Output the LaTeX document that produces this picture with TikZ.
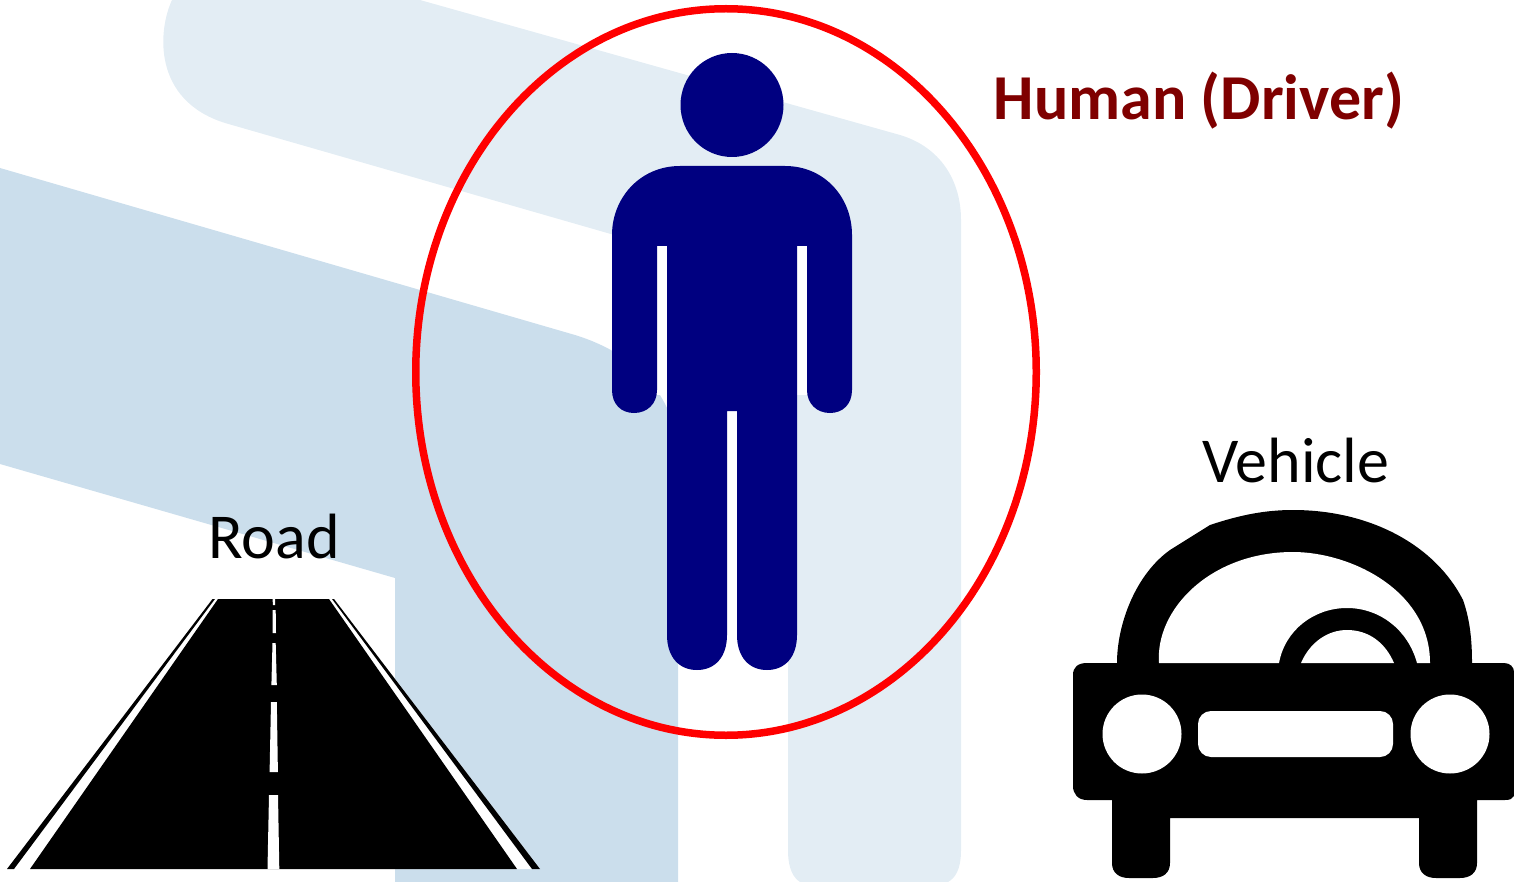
\documentclass[tikz,border=0pt]{standalone}
\usepackage{fontspec}
\usepackage{xcolor}
\setmainfont{Carlito}
\definecolor{bandlight}{HTML}{E3EDF4}
\definecolor{banddark}{HTML}{CBDEEC}
\definecolor{humanblue}{HTML}{000080}
\definecolor{humanred}{HTML}{7F0000}

\begin{document}
\begin{tikzpicture}[
    x=1pt, y=-1pt,
    % Estilos para no repetir codigo
    caption/.style={anchor=base, inner sep=0pt, font=\fontsize{64}{70}\selectfont},
    hole/.style={fill=white, draw=none},
    blackfill/.style={fill=black, draw=none}
  ]
  \useasboundingbox (0,0) rectangle (1514,882);

  % 1. Bandas del fondo
  \fill[bandlight] (172,0) .. controls (158,30) and (152,100) .. (225,123)
    -- (788,285) -- (788,850) .. controls (788,870) and (794,878) .. (800,882)
    -- (948,882) .. controls (955,878) and (961,870) .. (961,850)
    -- (961,220) .. controls (961,180) and (940,147) .. (900,135) -- (420,0) -- cycle;
  \fill[banddark] (0,168) -- (575,335) .. controls (640,355) and (678,400) .. (678,460)
    -- (678,882) -- (395,882) -- (395,578) -- (0,464) -- cycle;

  % 2. Persona
  \fill[hole] (655,240) rectangle (810,395);
  \fill[humanblue] (732,105) ellipse [x radius=51.5, y radius=52];
  \fill[humanblue] (680,166) -- (785,166) .. controls (825,166) and (852,198) .. (852,235)
    -- (852,390) .. controls (852,404) and (843,413) .. (830,413)
    .. controls (817,413) and (807,404) .. (807,390) -- (807,246) -- (797,246)
    -- (797,635) .. controls (797,657) and (785,670) .. (767,670)
    .. controls (749,670) and (737,657) .. (737,635) -- (737,411) -- (727,411)
    -- (727,635) .. controls (727,657) and (715,670) .. (697,670)
    .. controls (679,670) and (667,657) .. (667,635) -- (667,246) -- (657,246)
    -- (657,390) .. controls (657,404) and (647,413) .. (634,413)
    .. controls (621,413) and (612,404) .. (612,390) -- (612,235)
    .. controls (612,198) and (640,166) .. (680,166) -- cycle;

  % 3. Elipse roja
  \draw[red, line width=7.5pt] (726,372) ellipse [x radius=310.25, y radius=363.25];

  % 4. Carretera
  \fill[white] (212,599) -- (334,599) -- (540,869) -- (7,869) -- cycle;
  \fill[blackfill] (212.5,599) -- (215,599) -- (14,869) -- (7,869) -- cycle;
  \fill[blackfill] (332,599) -- (334,599) -- (540,869) -- (532,869) -- cycle;
  \fill[blackfill] (218,599) -- (329,599) -- (517,869) -- (30,869) -- cycle;
  % marcas del centro
  \fill[hole] (272.5,599) -- (275,599) -- (275,605) -- (273,605) -- cycle;
  \fill[hole] (272.5,610) -- (275.7,610) -- (276,633) -- (272.5,633) -- cycle;
  \fill[hole] (272.5,643) -- (275.7,643) -- (276.8,685) -- (271.4,685) -- cycle;
  \fill[hole] (271,702) -- (276.8,702) -- (277.9,772) -- (269.6,772) -- cycle;
  \fill[hole] (269,795) -- (278,795) -- (279.3,869) -- (267.5,869) -- cycle;

  % 5. Coche
  \fill[blackfill] (1117,663) .. controls (1117,625) and (1135,575) .. (1170,550)
    -- (1210,525) .. controls (1240,515) and (1265,510) .. (1293,510)
    .. controls (1370,510) and (1435,545) .. (1463,600)
    .. controls (1470,620) and (1472,640) .. (1472,663)
    -- (1504,663) .. controls (1510,663) and (1514,667) .. (1514,672)
    -- (1514,796) .. controls (1512,799) and (1510,800) .. (1505,800)
    -- (1477,800) -- (1477,863)
    .. controls (1477,873) and (1470,878) .. (1460,878)
    -- (1436,878) .. controls (1426,878) and (1419,873) .. (1419,863)
    -- (1419,818) -- (1170,818) -- (1170,863)
    .. controls (1170,873) and (1163,878) .. (1153,878)
    -- (1129,878) .. controls (1119,878) and (1112,873) .. (1112,863)
    -- (1112,800) -- (1087,800) .. controls (1078,800) and (1073,794) .. (1073,786)
    -- (1073,675) .. controls (1073,667) and (1078,663) .. (1087,663) -- cycle;
  % ventana
  \fill[hole] (1159,663) .. controls (1155,610) and (1210,552) .. (1293,552)
    .. controls (1350,552) and (1430,590) .. (1430,663) -- (1417,663)
    .. controls (1408,630) and (1380,608) .. (1347,608)
    .. controls (1314,608) and (1285,630) .. (1279,663) -- cycle;
  \fill[hole] (1301,663) .. controls (1310,642) and (1328,630) .. (1347,630)
    .. controls (1368,630) and (1385,642) .. (1394,663) -- cycle;
  % faros y parrilla
  \fill[hole] (1142,734) circle (39.5);
  \fill[hole] (1450,734) circle (39.5);
  \fill[hole, rounded corners=13pt] (1198,711) rectangle (1393,757);

  % 6. Textos
  \node[caption] (road) at (274,558) {Road};
  \node[caption] (vehicle) at (1296,482) {Vehicle};
  \node[caption, text=humanred, font=\fontsize{64}{70}\selectfont\bfseries] (human) at (1199,120) {Human (Driver)};

\end{tikzpicture}
\end{document}
